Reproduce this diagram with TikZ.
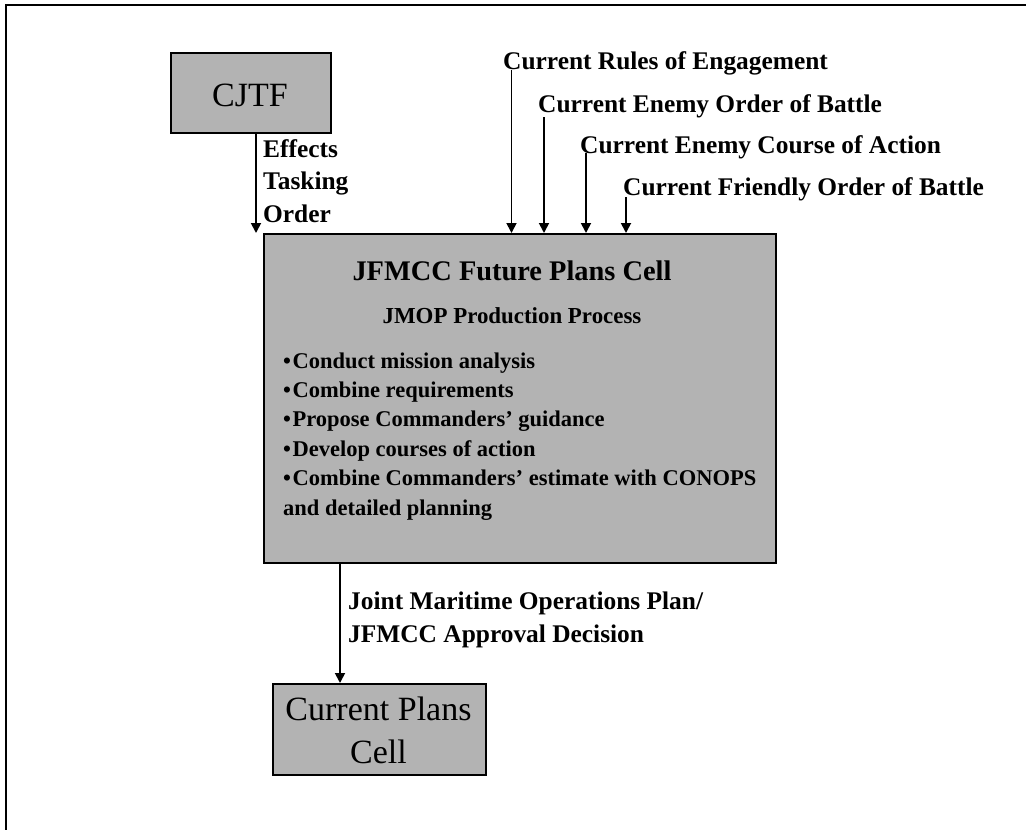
\documentclass[tikz,border=0pt]{standalone}
\usepackage{fontspec}
\setmainfont{Liberation Serif}
\usetikzlibrary{arrows.meta}
\definecolor{cellgray}{RGB}{179,179,179}
\tikzset{
  cellbox/.style={draw=black, line width=2.2pt, fill=cellgray, inner sep=0pt, anchor=north west},
  flow/.style={line width=1.8pt, -{Triangle[length=10pt,width=10pt]}},
  lbl/.style={inner sep=0pt, anchor=base west, align=left,
    font=\fontsize{25.4}{32.5}\selectfont\bfseries},
  boxtext/.style={font=\fontsize{34}{43}\selectfont, align=center, inner sep=0pt}
}
\begin{document}
\begin{tikzpicture}[x=1pt, y=-1pt]
  \useasboundingbox (0,0) rectangle (1026,830);
  % frame
  \draw[line width=2.5pt] (6,830) -- (6,5) -- (1026,5);

  % CJTF
  \node[cellbox, minimum width=160pt, minimum height=80pt] (cjtf) at (170,52) {};
  \node[boxtext, anchor=base] (cjtftext) at (250,106) {CJTF};

  % future plans cell (multi-line nodes are placed by the baseline of their last line)
  \node[cellbox, minimum width=512pt, minimum height=329pt] (main) at (263,233) {};
  \node[inner sep=0pt, anchor=base, font=\fontsize{28.4}{34}\selectfont\bfseries] (title) at (512,280) {JFMCC Future Plans Cell};
  \node[inner sep=0pt, anchor=base, font=\fontsize{22.9}{28}\selectfont\bfseries] (sub) at (512,323) {JMOP Production Process};
  \node[inner sep=0pt, anchor=base west, align=left, font=\fontsize{22.5}{29.4}\selectfont\bfseries] (steps) at (283,515)
    {•\hspace{1.5pt}Conduct mission analysis\\
     •\hspace{1.5pt}Combine requirements\\
     •\hspace{1.5pt}Propose Commanders’ guidance\\
     •\hspace{1.5pt}Develop courses of action\\
     •\hspace{1.5pt}Combine Commanders’ estimate with CONOPS\\
     and detailed planning};

  % current plans cell
  \node[cellbox, minimum width=213pt, minimum height=91pt] (cur) at (272,683) {};
  \node[boxtext, anchor=base] (curtext) at (378.5,763) {Current Plans\\Cell};

  % CJTF tasking
  \coordinate (cjtfout) at (256,132);
  \coordinate (mainin) at (256,233);
  \draw[flow] (cjtfout) -- (mainin);
  \node[lbl] (eto) at (263,222) {Effects\\Tasking\\Order};

  % current inputs
  \node[lbl] (roe) at (503,69) {Current Rules of Engagement};
  \node[lbl] (eob) at (538,112) {Current Enemy Order of Battle};
  \node[lbl] (ecoa) at (580,153) {Current Enemy Course of Action};
  \node[lbl] (fob) at (623,195) {Current Friendly Order of Battle};
  \draw[flow] ([xshift=8.5pt,yshift=-1pt]roe.base west) -- ([xshift=8.5pt]roe.base west |- main.north);
  \draw[flow] ([xshift=6pt,yshift=-5pt]eob.base west) -- ([xshift=6pt]eob.base west |- main.north);
  \draw[flow] ([xshift=6pt]ecoa.base west) -- ([xshift=6pt]ecoa.base west |- main.north);
  \draw[flow] ([xshift=3pt,yshift=-2pt]fob.base west) -- ([xshift=3pt]fob.base west |- main.north);

  % plan output
  \draw[flow] (main.south west -| 340,0) -- (cur.north west -| 340,0);
  \node[lbl] (jmop) at (348,642) {Joint Maritime Operations Plan/\\JFMCC Approval Decision};
\end{tikzpicture}
\end{document}
